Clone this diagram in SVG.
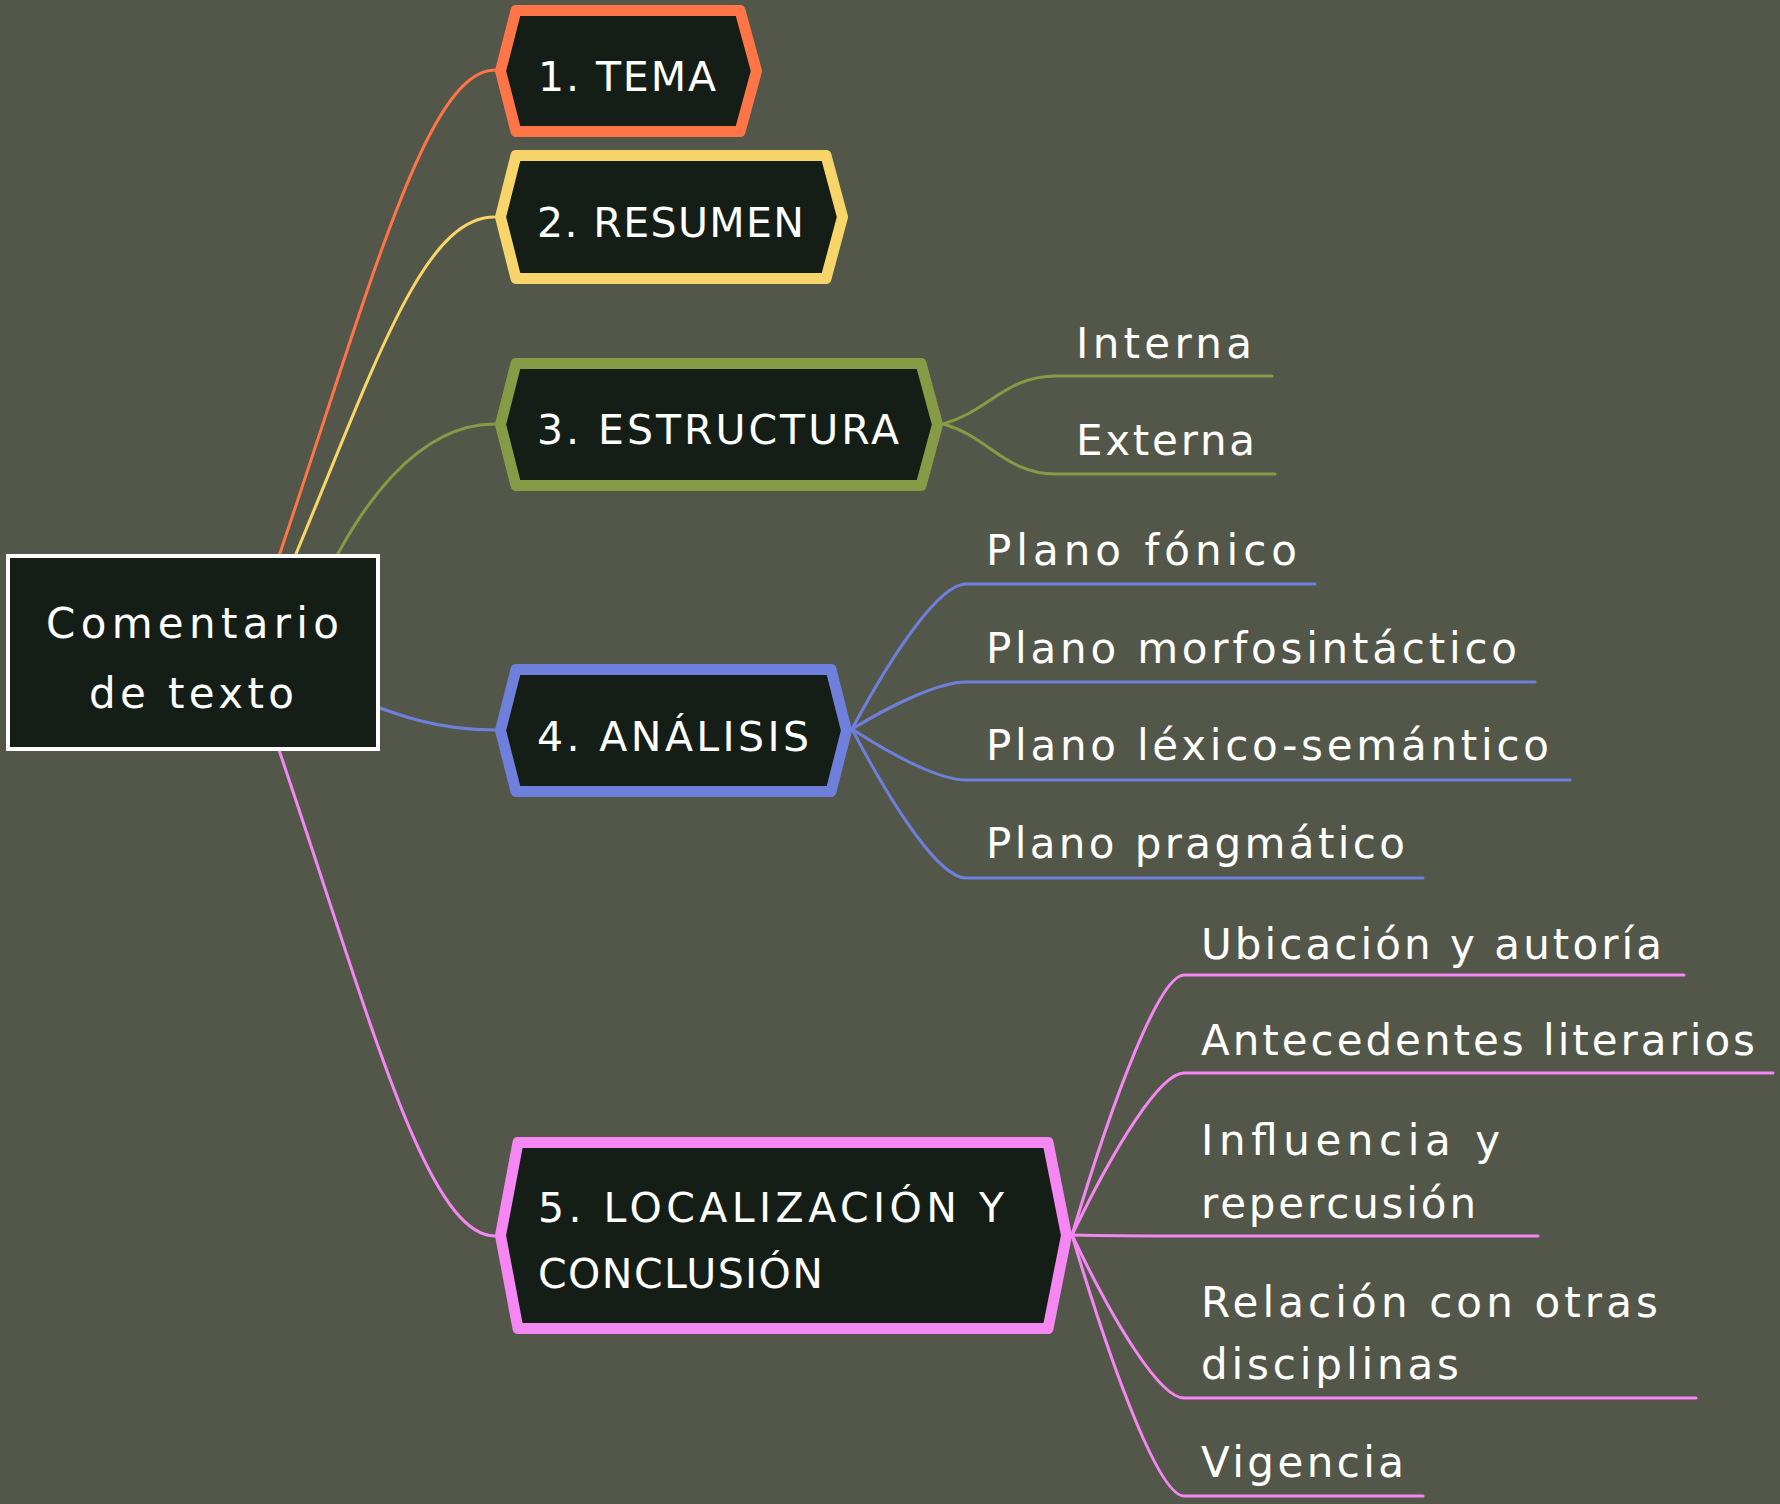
<svg xmlns="http://www.w3.org/2000/svg" width="1780" height="1504" viewBox="0 0 1780 1504">
<style>
.bg{fill:#535749}
.c{fill:none;stroke-width:3;stroke-linecap:round;stroke-linejoin:round}
.o{stroke:#FF7548}.y{stroke:#F8D56A}.g{stroke:#879A45}.b{stroke:#6F80DC}.p{stroke:#F587F3}
.hex{fill:#151E16;stroke-width:11;stroke-linejoin:round}
.t{font-family:"DejaVu Sans","Liberation Sans",sans-serif;fill:#FFFFFF;font-size:41px}
.s{font-family:"DejaVu Sans","Liberation Sans",sans-serif;fill:#FFFFFF;font-size:42px}
</style>
<rect class="bg" x="0" y="0" width="1780" height="1504"/>
<g id="connectors">
<path class="c o" d="M250 640 C360 330 420 70 495 70"/>
<path class="c y" d="M285 580 C370 380 420 217 494 217"/>
<path class="c g" d="M315 600 C360 500 420 424 495 424"/>
<path class="c b" d="M330 688 C400 718 440 730 495 730"/>
<path class="c p" d="M250 666 C360 976 420 1236 495 1236"/>
<path class="c g" d="M943 424 C988 412 1005 376 1056 376 H1272"/>
<path class="c g" d="M943 424 C988 436 1005 474 1056 474 H1275"/>
<path class="c b" d="M852 729 C895 649 940 584 966 584 H1315"/>
<path class="c b" d="M852 729 C895 703 940 682 966 682 H1535"/>
<path class="c b" d="M852 729 C895 757 940 780 966 780 H1570"/>
<path class="c b" d="M852 729 C895 811 940 878 966 878 H1423"/>
<path class="c p" d="M1072 1235 C1115 1092 1160 975 1184 975 H1684"/>
<path class="c p" d="M1072 1235 C1115 1146 1160 1073 1184 1073 H1773"/>
<path class="c p" d="M1072 1235 C1115 1236 1160 1236 1184 1236 H1538"/>
<path class="c p" d="M1072 1235 C1115 1325 1160 1398 1184 1398 H1696"/>
<path class="c p" d="M1072 1235 C1115 1379 1160 1496 1184 1496 H1423"/>
</g>
<g id="root">
<rect x="8" y="556" width="370" height="193" fill="#151E16" stroke="#FFFFFF" stroke-width="4"/>
<text class="s" x="46" y="638" textLength="293">Comentario</text>
<text class="s" x="89" y="708" textLength="205">de texto</text>
</g>
<g id="tema">
<polygon class="hex o" points="516,10.5 740,10.5 756.5,71 740,131.5 516,131.5 500.5,71"/>
<text class="t" x="538" y="91" textLength="178">1. TEMA</text>
</g>
<g id="resumen">
<polygon class="hex y" points="516,155.5 826,155.5 842.5,217 826,278.5 516,278.5 500.5,217"/>
<text class="t" x="537" y="237" textLength="267">2. RESUMEN</text>
</g>
<g id="estructura">
<polygon class="hex g" points="516,363.5 921,363.5 937.5,424.5 921,485.5 516,485.5 500.5,424.5"/>
<text class="t" x="537" y="444" textLength="362">3. ESTRUCTURA</text>
</g>
<g id="analisis">
<polygon class="hex b" points="516,669.5 831,669.5 846.5,730.5 831,791.5 516,791.5 500.5,730.5"/>
<text class="t" x="537" y="751" textLength="272">4. ANÁLISIS</text>
</g>
<g id="localizacion">
<polygon class="hex p" points="518,1142.5 1048,1142.5 1066.5,1235.5 1048,1328.5 518,1328.5 500.5,1235.5"/>
<text class="t" x="538" y="1222" textLength="466">5. LOCALIZACIÓN Y</text>
<text class="t" x="538" y="1288" textLength="285">CONCLUSIÓN</text>
</g>
<g id="interna"><text class="s" x="1076" y="358" textLength="176">Interna</text></g>
<g id="externa"><text class="s" x="1076" y="455" textLength="179">Externa</text></g>
<g id="fonico"><text class="s" x="986" y="565" textLength="311">Plano fónico</text></g>
<g id="morfo"><text class="s" x="986" y="663" textLength="531">Plano morfosintáctico</text></g>
<g id="lexico"><text class="s" x="986" y="760" textLength="563">Plano léxico-semántico</text></g>
<g id="pragmatico"><text class="s" x="986" y="858" textLength="419">Plano pragmático</text></g>
<g id="ubicacion"><text class="s" x="1201" y="959" textLength="461">Ubicación y autoría</text></g>
<g id="antecedentes"><text class="s" x="1201" y="1055" textLength="554">Antecedentes literarios</text></g>
<g id="influencia"><text class="s" x="1201" y="1155" textLength="299">Influencia y</text><text class="s" x="1201" y="1218" textLength="275">repercusión</text></g>
<g id="relacion"><text class="s" x="1201" y="1317" textLength="457">Relación con otras</text><text class="s" x="1201" y="1379" textLength="258">disciplinas</text></g>
<g id="vigencia"><text class="s" x="1201" y="1477" textLength="203">Vigencia</text></g>
</svg>
